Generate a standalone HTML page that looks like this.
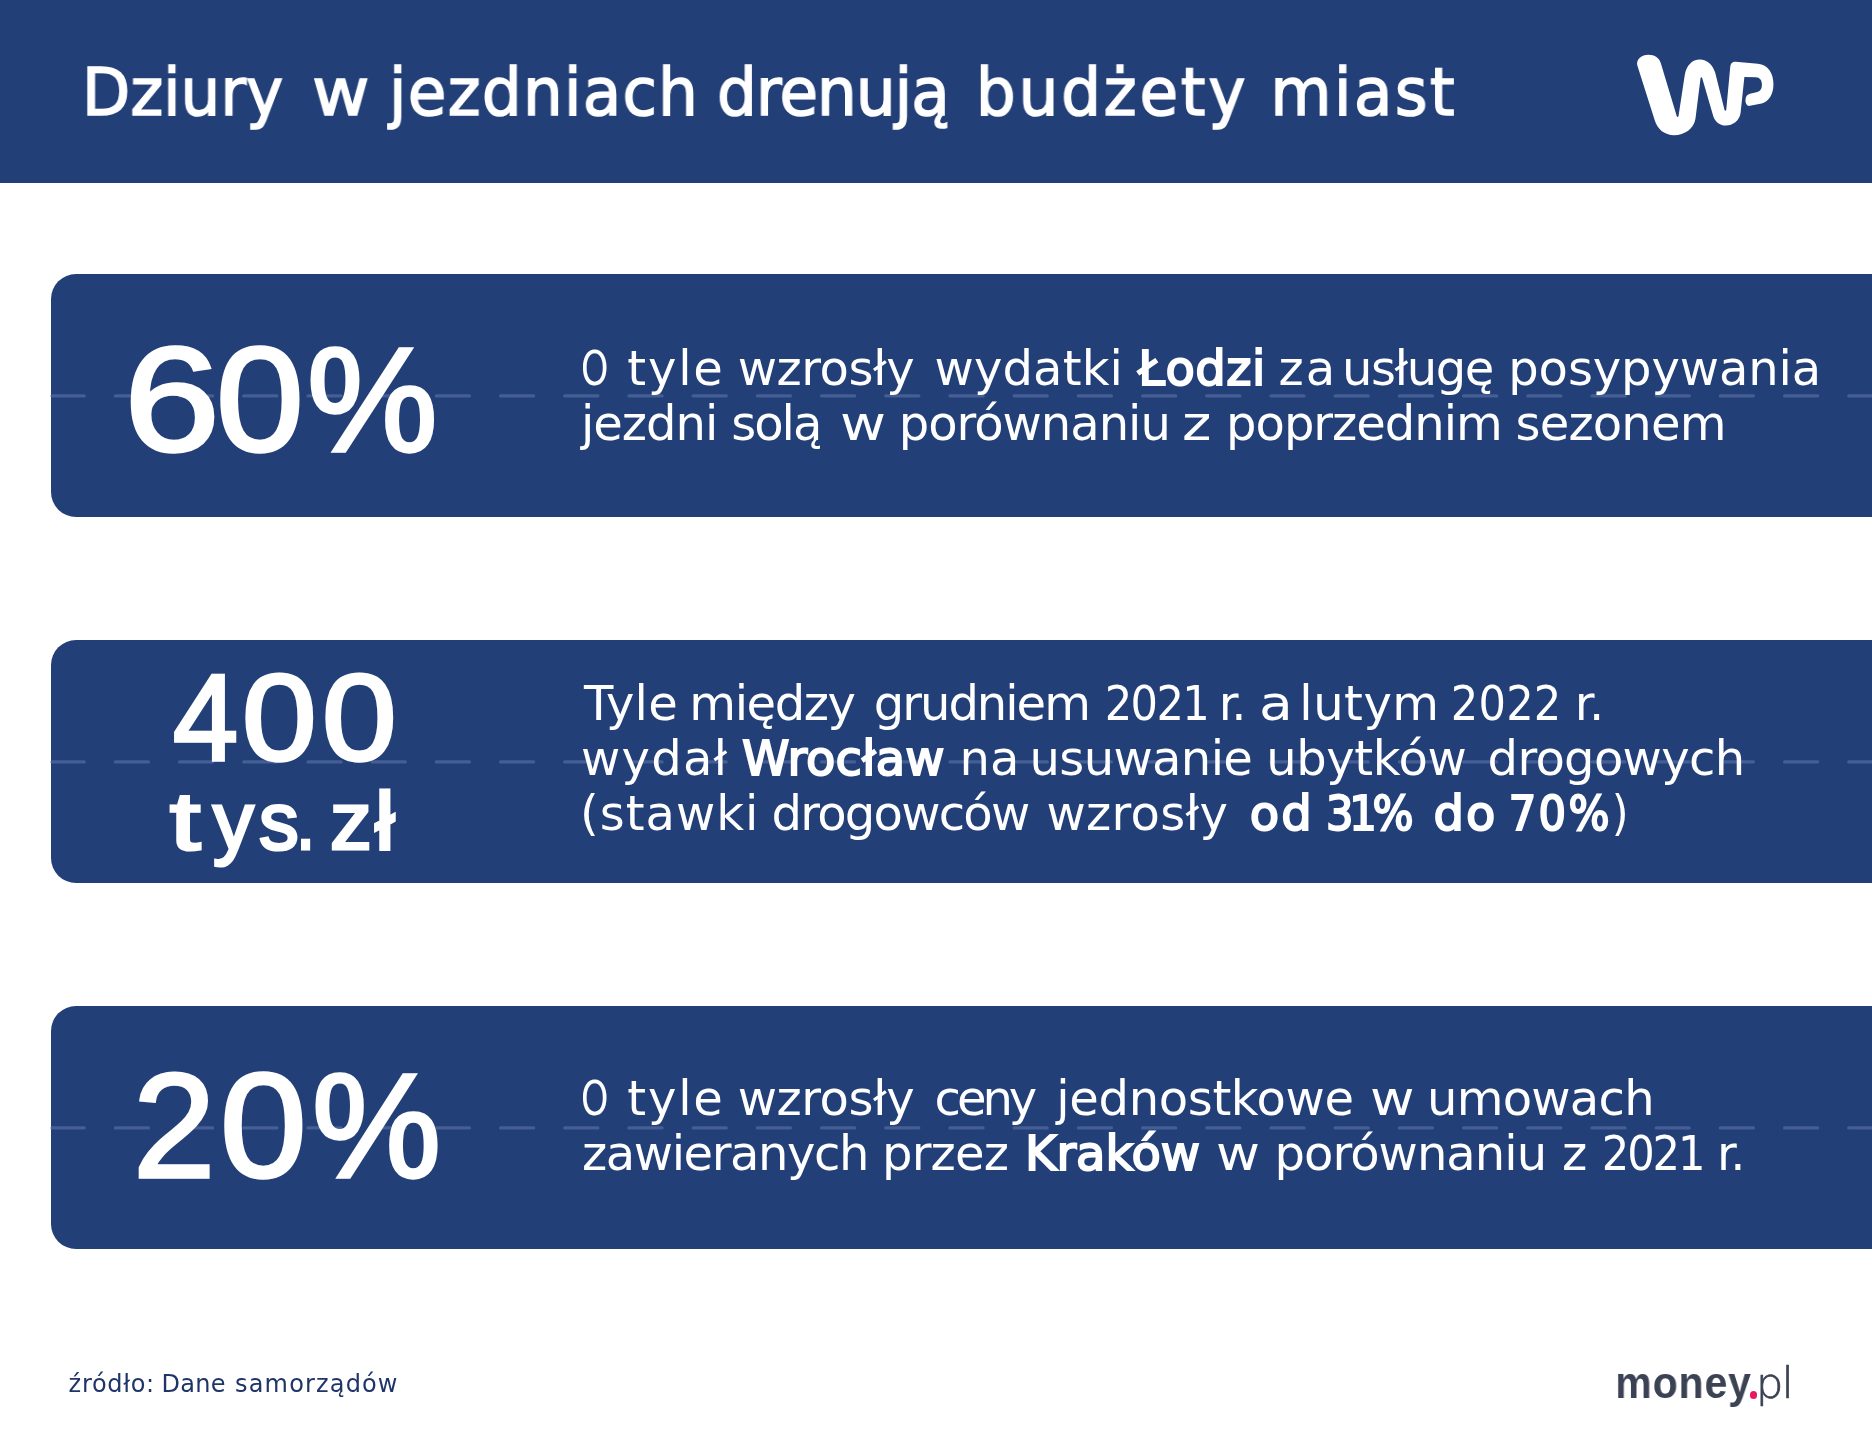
<!DOCTYPE html>
<html lang="pl">
<head>
<meta charset="utf-8">
<title>Dziury w jezdniach drenują budżety miast</title>
<style>
  html, body { margin: 0; padding: 0; }
  body {
    width: 1872px; height: 1440px; position: relative; overflow: hidden;
    background: #ffffff;
    font-family: "Liberation Sans", sans-serif;
    color: #ffffff;
  }
  .abs { position: absolute; white-space: nowrap; will-change: transform; }
  .header { position: absolute; left: 0; top: 0; width: 1872px; height: 183.4px; background: #223f77; }
  .panel {
    position: absolute; left: 50.5px; width: 1830px; height: 243px;
    background: #223f77; border-radius: 25px 0 0 25px;
  }
  #p1 { top: 274.3px; }
  #p2 { top: 640.2px; }
  #p3 { top: 1006.3px; }
  svg.dash { position: absolute; left: 0; top: 0; width: 1872px; height: 1440px; pointer-events: none; }
  .title {
    left: 85px; top: 40px; font-family: "DejaVu Sans", "Liberation Sans", sans-serif;
    font-size: 66px; line-height: 80px; -webkit-text-stroke: 1.6px #ffffff;
    transform: scaleX(0.95); transform-origin: 0 0;
  }
  .big { font-size: 148px; line-height: 1.1; -webkit-text-stroke: 4px #ffffff; }
  .g { display: inline-block; transform-origin: 0 50%; }
  .body {
    font-family: "DejaVu Sans", "Liberation Sans", sans-serif;
    font-size: 48px; line-height: 55px;
  }
  .body b { font-weight: 400; -webkit-text-stroke: 2px #ffffff; }
  .body .c { font-family: "DejaVu Sans Condensed", "DejaVu Sans", "Liberation Sans", sans-serif; }
  .src { color: #1f3468; font-family: "DejaVu Sans", "Liberation Sans", sans-serif; font-size: 24px; line-height: 30px; }
  .money { color: #3a4253; font-weight: 700; font-size: 44px; line-height: 50px; transform: scaleX(0.93); transform-origin: 0 0; }
  .pl { color: #3a4253; font-family: "DejaVu Sans", "Liberation Sans", sans-serif; font-weight: 200; font-size: 43px; line-height: 50px; letter-spacing: -1.5px; -webkit-text-stroke: 0.7px #3a4253; }
  .dot { position: absolute; left: 1749.8px; top: 1391.3px; width: 7.6px; height: 7.6px; border-radius: 50%; background: #e6195f; }
</style>
</head>
<body>

<div class="header"></div>
<div class="panel" id="p1"></div>
<div class="panel" id="p2"></div>
<div class="panel" id="p3"></div>

<svg class="dash" viewBox="0 0 1872 1440">
  <g stroke="#455f95" stroke-width="3.4" stroke-linecap="round" stroke-dasharray="33 31.2" stroke-dashoffset="1" fill="none">
    <line x1="52.2" y1="395.9" x2="1900" y2="395.9"/>
    <line x1="52.2" y1="761.9" x2="1900" y2="761.9"/>
    <line x1="52.2" y1="1127.9" x2="1900" y2="1127.9"/>
  </g>
</svg>

<svg class="abs" id="wp" style="left:1610px; top:30px;" width="200" height="130" viewBox="0 0 1872 1217" aria-label="WP">
  <path fill="#ffffff" d="M255 330 C245 275 295 232 360 232 C420 232 460 262 475 310 L625 808 Q633 822 641 808 L700 420 C715 330 770 275 840 275 C910 275 965 330 985 400 L1072 748 Q1080 762 1088 748 L1125 350 C1128 314 1146 298 1174 298 L1385 316 C1480 324 1530 410 1530 505 C1530 600 1490 668 1420 688 L1310 710 C1280 715 1266 680 1268 652 C1270 620 1288 602 1310 597 L1380 580 C1408 573 1422 548 1422 512 C1422 470 1400 445 1366 443 L1258 441 L1222 780 C1210 850 1150 895 1085 895 C1020 895 975 850 962 790 L862 448 Q855 436 848 448 L800 830 C785 920 700 985 600 985 C510 985 445 930 420 850 Z"/>
</svg>

<div class="abs title" id="title" style="left:85px; top:52.7px;"><span style="margin-left:-3.2px">Dziury</span> <span class="g" style="margin-left:9.1px;transform:scaleX(1.120)">w</span> <span style="margin-left:6.4px;letter-spacing:1.36px">jezdniach</span> <span style="margin-left:-2.3px;letter-spacing:-0.96px">drenują</span> <span style="margin-left:7.7px;letter-spacing:2.98px">budżety</span> <span style="margin-left:2.3px;letter-spacing:2.63px">miast</span></div>

<div class="abs big" id="n1" style="left:128px; top:319.0px; font-size:148.0px; -webkit-text-stroke-width:3.4px;"><span class="g" style="margin-left:-4.0px;transform:scaleX(1.165)">6</span><span class="g" style="margin-left:10.0px;transform:scaleX(1.066)">0</span><span class="g" style="margin-left:8.0px;transform:scaleX(0.992)">%</span></div>
<div class="abs body" id="t1a" style="left:584px; top:341.0px;"><span class="g" style="margin-left:-2.7px;transform:scaleX(0.726)">O</span> <span style="margin-left:-7.1px;letter-spacing:1.83px">tyle</span> <span style="margin-left:-2.3px;letter-spacing:-0.41px">wzrosły</span> <span style="margin-left:4.9px;letter-spacing:0.16px">wydatki</span> <span style="margin-left:-0.4px;letter-spacing:0.50px"><b>Łodzi</b></span> <span style="margin-left:-2.6px;letter-spacing:2.00px">za</span> <span style="margin-left:-10.5px;letter-spacing:-1.40px">usługę</span> <span style="letter-spacing:-0.10px">posypywania</span></div>
<div class="abs body" id="t1b" style="left:584px; top:395.5px;"><span style="margin-left:-3.0px;letter-spacing:-1.00px">jezdni</span> <span style="margin-left:-1.4px;letter-spacing:-2.00px">solą</span> <span class="g" style="margin-left:4.9px;transform:scaleX(1.172)">w</span> <span style="margin-left:3.7px;letter-spacing:-1.00px">porównaniu</span> <span class="g" style="margin-left:-3.0px;transform:scaleX(1.166)">z</span> <span style="margin-left:3.5px;letter-spacing:-1.00px">poprzednim</span> <span style="margin-left:-1.5px;letter-spacing:-0.83px">sezonem</span></div>

<div class="abs big" id="n2a" style="left:170px; top:650.8px; font-size:122.0px; -webkit-text-stroke-width:3.4px;"><span class="g" style="margin-left:3.0px;transform:scaleX(0.958)">4</span><span class="g" style="margin-left:1.6px;transform:scaleX(1.099)">0</span><span class="g" style="margin-left:12.0px;transform:scaleX(1.099)">0</span></div>
<div class="abs big" id="n2b" style="left:168px; top:776.7px; font-size:81.0px; -webkit-text-stroke-width:3px;"><span class="g" style="margin-left:2.4px;transform:scaleX(1.350)">t</span><span class="g" style="margin-left:19.8px;transform:scaleX(1.005)">y</span><span class="g" style="margin-left:6.0px;transform:scaleX(0.982)">s</span><span class="g" style="margin-left:-3.6px;transform:scaleX(0.850)">. </span><span class="g" style="margin-left:11.7px;transform:scaleX(1.033)">z</span><span class="g" style="margin-left:3.9px;transform:scaleX(1.091)">ł</span></div>
<div class="abs body" id="t2a" style="left:584px; top:675.5px;"><span style="letter-spacing:0.18px">Tyle</span> <span style="margin-left:-3.8px;letter-spacing:-1.40px">między</span> <span style="margin-left:3.9px;letter-spacing:-2.00px">grudniem</span> <span class="c" style="margin-left:0.5px;letter-spacing:-1.58px">2021</span> <span style="margin-left:-4.7px;letter-spacing:-3.00px">r.</span> <span class="g" style="margin-left:0.7px;transform:scaleX(1.148)">a</span> <span style="margin-left:-4.7px;letter-spacing:0.50px">lutym</span> <span class="c" style="margin-left:-4.2px;letter-spacing:0.26px">2022</span> <span style="margin-left:-2.1px;letter-spacing:-1.00px">r.</span></div>
<div class="abs body" id="t2b" style="left:584px; top:730.5px;"><span style="margin-left:-3.0px;letter-spacing:1.25px">wydał</span> <span style="margin-left:-1.7px;letter-spacing:0.06px"><b>Wrocław</b></span> <span style="margin-left:-0.3px">na</span> <span style="margin-left:-5.1px;letter-spacing:-0.63px">usuwanie</span> <span style="margin-left:-1.3px;letter-spacing:-0.39px">ubytków</span> <span style="margin-left:6.0px;letter-spacing:-0.67px">drogowych</span></div>
<div class="abs body" id="t2c" style="left:584px; top:785.5px;"><span style="margin-left:-4.0px;letter-spacing:1.00px">(stawki</span> <span style="margin-left:-3.1px;letter-spacing:-1.74px">drogowców</span> <span style="margin-left:2.7px;letter-spacing:0.33px">wzrosły</span> <span style="margin-left:6.2px;letter-spacing:2.00px"><b>od</b></span> <span class="c" style="margin-left:-3.0px;letter-spacing:-4.20px"><b>31%</b></span> <span style="margin-left:9.0px;letter-spacing:2.00px"><b>do</b></span> <span class="c" style="margin-left:-3.9px;letter-spacing:2.34px"><b>70%</b>)</span></div>

<div class="abs big" id="n3" style="left:135px; top:1045.0px; font-size:148.0px; -webkit-text-stroke-width:3.4px;"><span class="g" style="margin-left:-2.0px">2</span><span class="g" style="margin-left:5.0px;transform:scaleX(1.053)">0</span><span class="g" style="margin-left:9.0px;transform:scaleX(0.980)">%</span></div>
<div class="abs body" id="t3a" style="left:584px; top:1070.5px;"><span class="g" style="margin-left:-2.7px;transform:scaleX(0.726)">O</span> <span style="margin-left:-7.1px;letter-spacing:1.83px">tyle</span> <span style="margin-left:-2.3px;letter-spacing:-0.41px">wzrosły</span> <span style="margin-left:5.0px;letter-spacing:-4.04px">ceny</span> <span style="margin-left:7.9px;letter-spacing:-0.35px">jednostkowe</span> <span class="g" style="margin-left:1.2px;transform:scaleX(1.134)">w</span> <span style="margin-left:2.4px;letter-spacing:-0.76px">umowach</span></div>
<div class="abs body" id="t3b" style="left:584px; top:1125.5px;"><span style="margin-left:-2.0px;letter-spacing:-1.40px">zawieranych</span> <span style="margin-left:-1.4px;letter-spacing:-0.80px">przez</span> <span style="margin-left:1.7px;letter-spacing:-0.10px"><b>Kraków</b></span> <span class="g" style="margin-left:1.3px;transform:scaleX(1.120)">w</span> <span style="margin-left:3.5px;letter-spacing:-0.94px">porównaniu</span> <span class="g" style="margin-left:0.2px;transform:scaleX(1.002)">z</span> <span class="c" style="margin-left:-0.3px;letter-spacing:-2.09px">2021</span> <span style="margin-left:-1.6px;letter-spacing:-2.00px">r.</span></div>

<div class="abs src" id="src" style="left:69px; top:1369.1px;"><span style="margin-left:-0.4px;letter-spacing:0.67px">źródło:</span> <span style="margin-left:-0.8px;letter-spacing:0.29px">Dane</span> <span style="margin-left:1.5px;letter-spacing:1.16px">samorządów</span></div>

<div class="abs money" id="money" style="left:1616px; top:1358.3px;"><span style="margin-left:-0.7px;letter-spacing:0.99px">money</span></div>
<div class="dot"></div>
<div class="abs pl" id="pl" style="left:1756px; top:1358px;">pl</div>

</body>
</html>
